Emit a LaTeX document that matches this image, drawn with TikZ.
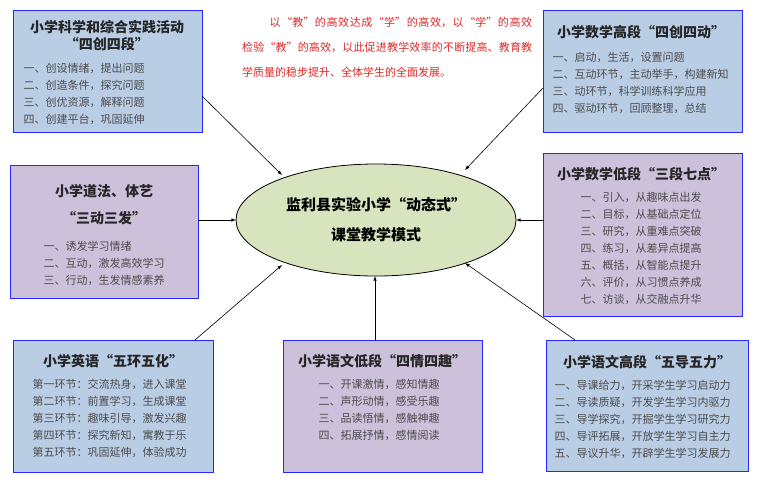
\documentclass[tikz,border=0pt]{standalone}
\usepackage{fontspec}
\setmainfont{Noto Sans CJK SC}
\XeTeXlinebreaklocale "zh"
\XeTeXlinebreakskip=0pt plus 1pt
\usetikzlibrary{shapes.geometric}
\begin{document}
\begin{tikzpicture}[x=1pt,y=-1pt,
 bx/.style={draw=blue!85!white,line width=0.9pt,anchor=north west,inner sep=0pt},
 bluef/.style={fill={rgb,255:red,185;green,205;blue,229}},
 purf/.style={fill={rgb,255:red,204;green,192;blue,218}},
 ttl/.style={font=\fontsize{14}{17}\selectfont\bfseries,text=black!85},
 itm/.style={font=\fontsize{11}{17}\selectfont,text=black!70,align=left},
 arr/.style={-latex,line width=0.6pt}]
\useasboundingbox (0,0) rectangle (760,499);
\node[bx,bluef,minimum width=189,minimum height=122] (sci) at (13,10) {};
\node[ttl,align=center] at (107,36) {小学科学和综合实践活动\\“四创四段”};
\node[itm,anchor=north west] at (20,60) {一、创设情绪，提出问题\\二、创造条件，探究问题\\三、创优资源，解释问题\\四、创建平台，巩固延伸};
\node[bx,purf,minimum width=188,minimum height=133] (dao) at (10,165) {};
\node[ttl,align=center] at (104,205) {小学道法、体艺\\[10pt]“三动三发”};
\node[itm,anchor=north west] at (40,238) {一、诱发学习情绪\\二、互动，激发高效学习\\三、行动，生发情感素养};
\node[bx,bluef,minimum width=200,minimum height=132] (eng) at (13,340) {};
\node[ttl] at (113,361) {小学英语“五环五化”};
\node[itm,anchor=north west] at (29,376) {第一环节：交流热身，进入课堂\\第二环节：前置学习，生成课堂\\第三环节：趣味引导，激发兴趣\\第四环节：探究新知，寓教于乐\\第五环节：巩固延伸，体验成功};
\node[bx,purf,minimum width=199,minimum height=132] (chl) at (283,340) {};
\node[ttl] at (382,361) {小学语文低段“四情四趣”};
\node[itm,anchor=north west] at (315,376) {一、开课激情，感知情趣\\二、声形动情，感受乐趣\\三、品读悟情，感触神趣\\四、拓展抒情，感情阅读};
\node[bx,bluef,minimum width=202,minimum height=131] (chh) at (546,340) {};
\node[ttl] at (647,362) {小学语文高段“五导五力”};
\node[itm,anchor=north west] at (551,377) {一、导课给力，开采学生学习启动力\\二、导读质疑，开发学生学习内驱力\\三、导学探究，开掘学生学习研究力\\四、导评拓展，开放学生学习自主力\\五、导议升华，开辟学生学习发展力};
\node[bx,bluef,minimum width=199,minimum height=122] (mh) at (543,10) {};
\node[ttl] at (641,32) {小学数学高段“四创四动”};
\node[itm,anchor=north west] at (549,49) {一、启动，生活，设置问题\\二、互动环节，主动举手，构建新知\\三、动环节，科学训练科学应用\\四、驱动环节，回顾整理，总结};
\node[bx,purf,minimum width=199,minimum height=163] (ml) at (543,153) {};
\node[ttl] at (641,174) {小学数学低段“三段七点”};
\node[itm,anchor=north west] at (577,189) {一、引入，从趣味点出发\\二、目标，从基础点定位\\三、研究，从重难点突破\\四、练习，从差异点提高\\五、概括，从智能点提升\\六、评价，从习惯点养成\\七、访谈，从交融点升华};
\node[draw,line width=0.8pt,fill={rgb,255:red,215;green,228;blue,189},ellipse,minimum width=280,minimum height=112,inner sep=0pt] (c) at (376,220) {};
\node[font=\fontsize{15}{30}\selectfont\bfseries,align=center] at (376,220) {监利县实验小学“动态式”\\课堂教学模式};
\node[font=\fontsize{11}{25}\selectfont,text={rgb,255:red,220;green,40;blue,40},align=justify,anchor=north west,text width=290,inner sep=0pt] at (242,17) {\hspace*{2.5em}以“教”的高效达成“学”的高效，以“学”的高效检验“教”的高效，以此促进教学效率的不断提高、教育教学质量的稳步提升、全体学生的全面发展。};
\coordinate (a1) at (202,96); \coordinate (e1) at (282,175);
\coordinate (a2) at (198,220); \coordinate (e2) at (236,220);
\coordinate (a3) at (195,340); \coordinate (e3) at (282,265);
\coordinate (a4) at (375,340); \coordinate (e4) at (375,276);
\coordinate (a5) at (575,340); \coordinate (e5) at (465,263);
\coordinate (a6) at (543,220); \coordinate (e6) at (516,220);
\coordinate (a7) at (543,88); \coordinate (e7) at (465,170);
\foreach \i in {1,...,7} \draw[arr] (a\i) -- (e\i);
\end{tikzpicture}
\end{document}
